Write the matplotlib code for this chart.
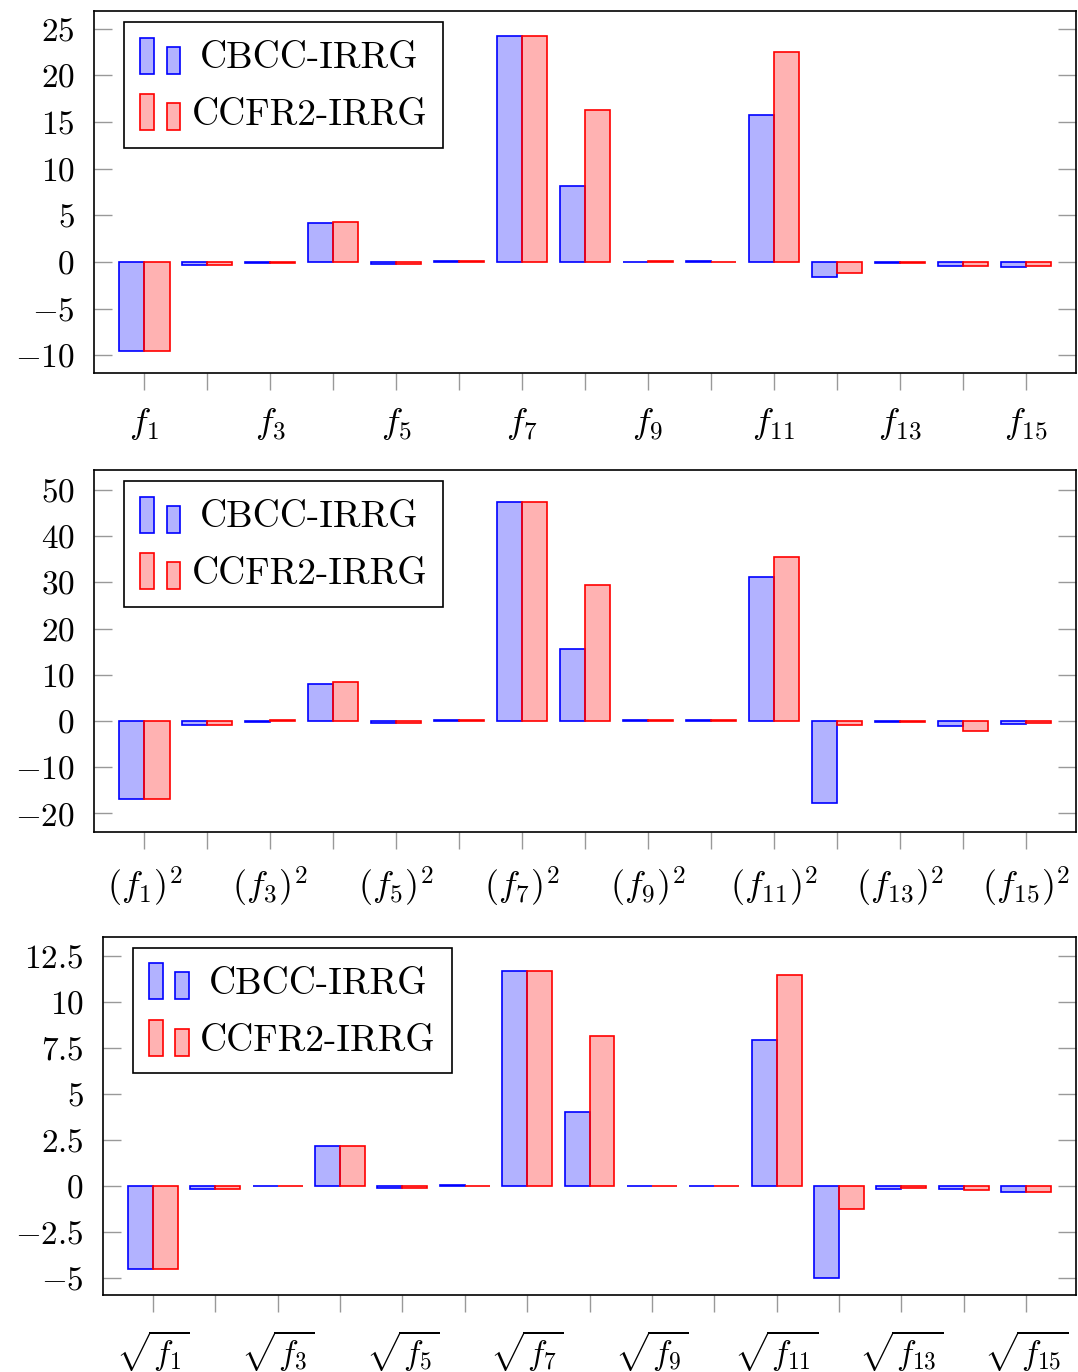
import numpy as np
import matplotlib
matplotlib.use('Agg')
import matplotlib.pyplot as plt
from matplotlib.legend_handler import HandlerBase
from matplotlib.patches import Rectangle
from matplotlib.ticker import FixedLocator, FuncFormatter

plt.rcParams['font.family'] = 'cmr10'
plt.rcParams['mathtext.fontset'] = 'cm'
plt.rcParams['axes.formatter.use_mathtext'] = True
plt.rcParams['axes.unicode_minus'] = True

series_names = ['CBCC-IRRG', 'CCFR2-IRRG']
funcs = list(range(1, 16))

# f_i
p1_blue = [-9.5, -0.35, -0.05, 4.2, -0.25, 0.1, 24.2, 8.1, 0.03, 0.1, 15.8, -1.55, -0.05, -0.4, -0.5]
p1_red = [-9.5, -0.35, -0.05, 4.3, -0.25, 0.1, 24.2, 16.3, 0.15, 0.03, 22.5, -1.15, -0.05, -0.4, -0.45]
# (f_i)^2
p2_blue = [-16.9, -0.8, -0.1, 8.0, -0.5, 0.3, 47.3, 15.6, 0.25, 0.2, 31.2, -17.7, -0.2, -1.0, -0.6]
p2_red = [-16.9, -0.8, 0.2, 8.4, -0.5, 0.3, 47.3, 29.4, 0.2, 0.2, 35.5, -0.8, -0.2, -2.1, -0.5]
# sqrt(f_i)
p3_blue = [-4.5, -0.18, 0.0, 2.17, -0.1, 0.08, 11.7, 4.0, 0.0, 0.0, 7.93, -5.0, -0.18, -0.18, -0.33]
p3_red = [-4.5, -0.18, 0.0, 2.2, -0.12, 0.02, 11.7, 8.15, 0.0, 0.0, 11.45, -1.27, -0.08, -0.22, -0.33]

xt1 = [r'$f_{%d}$' % i for i in funcs]
xt2 = [r'$(f_{%d})^2$' % i for i in funcs]
xt3 = [r'$\sqrt{f_{%d}}$' % i for i in funcs]

blue_face = (0, 0, 1, 0.3)
red_face = (1, 0, 0, 0.3)
fs = 24
legend_fs = 27


class TwoBars(HandlerBase):
    def create_artists(self, legend, orig_handle, xdescent, ydescent,
                       width, height, fontsize, trans):
        fc = orig_handle.get_facecolor()
        ec = orig_handle.get_edgecolor()
        w = width * 0.34
        r1 = Rectangle((-xdescent, -ydescent), w, height, facecolor=fc,
                       edgecolor=ec, linewidth=1.2, transform=trans)
        r2 = Rectangle((-xdescent + width - w, -ydescent), w, height * 0.75,
                       facecolor=fc, edgecolor=ec, linewidth=1.2, transform=trans)
        return [r1, r2]


def bar_panel(rect, blue, red, xlabels, ylim, yticks, xfs):
    ax = fig.add_axes(rect)
    x = np.array(funcs, dtype=float)
    hb = ax.bar(x - 0.2, blue, width=0.4, facecolor=blue_face, edgecolor='blue', linewidth=1.2)
    hr = ax.bar(x + 0.2, red, width=0.4, facecolor=red_face, edgecolor='red', linewidth=1.2)
    ax.set_xlim(0.2, 15.8)
    ax.set_ylim(*ylim)
    ax.yaxis.set_major_locator(FixedLocator(yticks))
    ax.yaxis.set_major_formatter(FuncFormatter(lambda v, p: '$%g$' % v))
    ax.set_xticks(funcs)
    ax.set_xticklabels([lab if i % 2 == 1 else '' for i, lab in zip(funcs, xlabels)])
    ax.tick_params(axis='y', direction='in', left=True, right=True, length=13,
                   width=1.0, color='#999999', labelsize=fs, pad=14)
    ax.tick_params(axis='x', direction='out', length=12, width=1.0,
                   color='#999999', labelsize=xfs, pad=12)
    for s in ax.spines.values():
        s.set_linewidth(1.2)
    leg = ax.legend([hb.patches[0], hr.patches[0]], series_names,
                    handler_map={Rectangle: TwoBars()},
                    loc='upper left', bbox_to_anchor=(0.031, 0.97),
                    bbox_transform=ax.transAxes, borderaxespad=0,
                    fontsize=legend_fs, handlelength=1.07, handleheight=1.1,
                    handletextpad=0.3, labelspacing=0.5, borderpad=0.42,
                    fancybox=False, framealpha=1, edgecolor='black')
    leg.get_frame().set_linewidth(1.2)
    return leg


fig = plt.figure(figsize=(10.78, 13.72), dpi=100)

legends = [
    bar_panel([0.0872, 0.7281, 0.9110, 0.2638], p1_blue, p1_red, xt1,
              (-11.9, 26.9), [-10, -5, 0, 5, 10, 15, 20, 25], 26),
    bar_panel([0.0872, 0.3936, 0.9110, 0.2638], p2_blue, p2_red, xt2,
              (-24.0, 54.3), [-20, -10, 0, 10, 20, 30, 40, 50], 26),
    bar_panel([0.0955, 0.0561, 0.9027, 0.2610], p3_blue, p3_red, xt3,
              (-5.92, 13.53), [-5, -2.5, 0, 2.5, 5, 7.5, 10, 12.5], 24),
]

# centre the legend labels like pgfplots does
renderer = fig.canvas.get_renderer()
for leg in legends:
    texts = leg.get_texts()
    widths = [t.get_window_extent(renderer).width for t in texts]
    for t, w in zip(texts, widths):
        t.set_x((max(widths) - w) / 2)

fig.savefig('out.png', dpi=100)
